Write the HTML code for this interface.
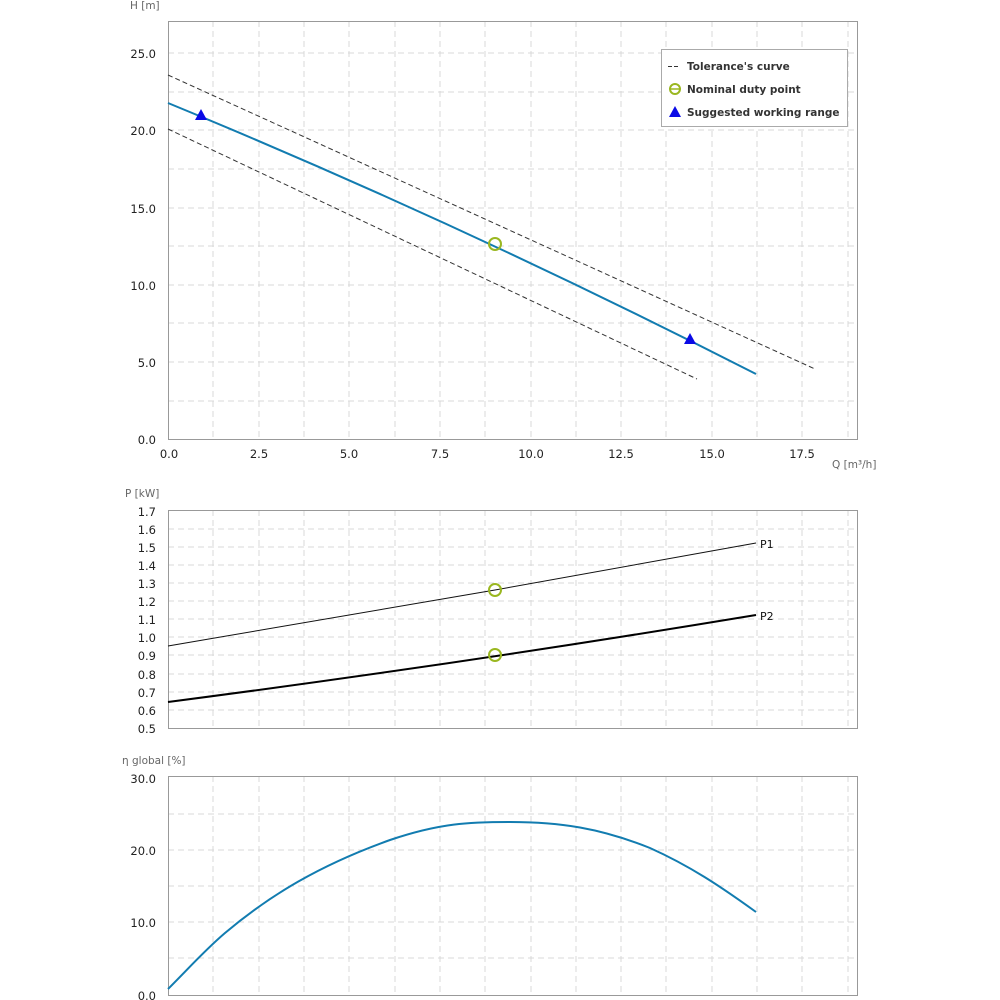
<!DOCTYPE html>
<html><head><style>body{margin:0;background:#fff}svg{display:block;font-family:"DejaVu Sans","Liberation Sans",sans-serif}</style></head><body>
<svg width="1000" height="1000" xmlns="http://www.w3.org/2000/svg">
<g stroke="#d9d9d9" stroke-dasharray="6,4" stroke-width="1" fill="none">
<path d="M213 21V439M259 21V439M304 21V439M349 21V439M395 21V439M440 21V439M485 21V439M531 21V439M576 21V439M621 21V439M666 21V439M712 21V439M757 21V439M802 21V439M848 21V439"/>
<path d="M213 510V728M259 510V728M304 510V728M349 510V728M395 510V728M440 510V728M485 510V728M531 510V728M576 510V728M621 510V728M666 510V728M712 510V728M757 510V728M802 510V728M848 510V728"/>
<path d="M213 776V995M259 776V995M304 776V995M349 776V995M395 776V995M440 776V995M485 776V995M531 776V995M576 776V995M621 776V995M666 776V995M712 776V995M757 776V995M802 776V995M848 776V995"/>
<path d="M168 53H857M168 92H857M168 130H857M168 169H857M168 208H857M168 246H857M168 285H857M168 323H857M168 362H857M168 401H857"/>
<path d="M168 529H857M168 547H857M168 565H857M168 583H857M168 601H857M168 619H857M168 637H857M168 655H857M168 674H857M168 692H857M168 710H857"/>
<path d="M168 814H857M168 850H857M168 886H857M168 922H857M168 958H857"/>
</g>
<g fill="none" stroke="#999" stroke-width="1">
<rect x="168.5" y="21.5" width="689" height="418"/>
<rect x="168.5" y="510.5" width="689" height="218"/>
<rect x="168.5" y="776.5" width="689" height="219"/>
</g>
<g font-size="11.5" fill="#222" text-anchor="end">
<text x="156" y="58">25.0</text><text x="156" y="135">20.0</text><text x="156" y="213">15.0</text><text x="156" y="290">10.0</text><text x="156" y="367">5.0</text><text x="156" y="444">0.0</text>
<text x="156" y="516">1.7</text><text x="156" y="534">1.6</text><text x="156" y="552">1.5</text><text x="156" y="570">1.4</text><text x="156" y="588">1.3</text><text x="156" y="606">1.2</text><text x="156" y="624">1.1</text><text x="156" y="642">1.0</text><text x="156" y="660">0.9</text><text x="156" y="679">0.8</text><text x="156" y="697">0.7</text><text x="156" y="715">0.6</text><text x="156" y="733">0.5</text>
<text x="156" y="783">30.0</text><text x="156" y="855">20.0</text><text x="156" y="927">10.0</text><text x="156" y="1000">0.0</text>
</g>
<g font-size="11.5" fill="#222" text-anchor="middle">
<text x="169" y="458">0.0</text><text x="259" y="458">2.5</text><text x="349" y="458">5.0</text><text x="440" y="458">7.5</text><text x="531" y="458">10.0</text><text x="621" y="458">12.5</text><text x="712" y="458">15.0</text><text x="802" y="458">17.5</text>
</g>
<g font-size="10.5" fill="#666">
<text x="130" y="9">H [m]</text><text x="832" y="468">Q [m³/h]</text><text x="125" y="497">P [kW]</text><text x="122" y="764">η global [%]</text>
</g>
<g fill="none">
<polyline points="168,75 815,369" stroke="#333" stroke-dasharray="5,3"/>
<polyline points="168,129 697,379" stroke="#333" stroke-dasharray="5,3"/>
<path d="M168 103Q460 223 756 374" stroke="#127cb0" stroke-width="2"/>
<polyline points="168,646 495,590 756,543" stroke="#111" stroke-width="1"/>
<path d="M168 702Q460 664 756 615" stroke="#000" stroke-width="2"/>
<path d="M168 989C190 967 205 950 225 933C270 895 320 865 390 840C440 823 470 822 510 822C560 822 600 828 650 848C690 866 720 886 756 912" stroke="#127cb0" stroke-width="2"/>
</g>
<g fill="none" stroke="#9ab720" stroke-width="2">
<circle cx="495" cy="244" r="6"/><circle cx="495" cy="590" r="6"/><circle cx="495" cy="655" r="6"/>
</g>
<g fill="#0a0ae6"><path d="M201 109l6 11h-12z"/><path d="M690 333l6 11h-12z"/></g>
<g font-size="11" fill="#111"><text x="760" y="548">P1</text><text x="760" y="620">P2</text></g>
<rect x="661.5" y="49.5" width="186" height="77" fill="#fff" stroke="#aaa"/>
<path d="M668 66.5h4M674 66.5h4" stroke="#333"/>
<circle cx="675" cy="89" r="5" fill="none" stroke="#9ab720" stroke-width="2"/><path d="M671 89h8" stroke="#9ab720" stroke-width="1.5"/>
<path d="M675 106l6 11h-12z" fill="#0a0ae6"/>
<g font-size="10.5" font-weight="bold" fill="#333"><text x="687" y="70">Tolerance's curve</text><text x="687" y="93">Nominal duty point</text><text x="687" y="116">Suggested working range</text></g>
</svg>
</body></html>
